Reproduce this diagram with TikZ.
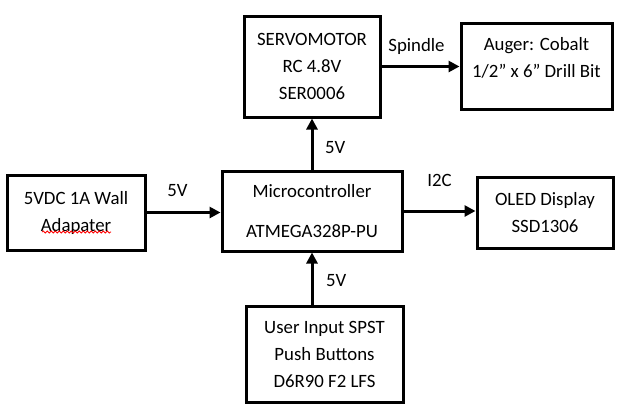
\documentclass[tikz,border=0pt]{standalone}
\usepackage{fontspec}
\setmainfont{Carlito}
\usepackage{tikz}
\usetikzlibrary{arrows.meta, decorations.pathmorphing}

\begin{document}
\begin{tikzpicture}[x=0.5pt, y=-0.5pt, >={Triangle[length=5.5pt,width=5.5pt]},
  font=\fontsize{9.4}{13.5}\selectfont,
  block/.style={draw, line width=1.5pt, align=center, inner sep=0pt},
  squiggle/.style={draw=red, line width=0.4pt, decorate,
    decoration={snake, amplitude=0.5pt, segment length=2pt}}]
\useasboundingbox (0,0) rectangle (626,412);

\node [block, minimum width=69pt, minimum height=37.5pt] (wall) at (76,212.5)
  {5VDC 1A Wall\\Adapater};
\node [block, minimum width=90pt, minimum height=40pt] (micro) at (312,211)
  {Microcontroller\\[6.5pt]ATMEGA328P-PU};
\node [block, minimum width=68pt, minimum height=50.5pt] (servo) at (312,66.5)
  {SERVOMOTOR\\RC 4.8V\\SER0006};
\node [block, minimum width=75.5pt, minimum height=43pt, text depth=9pt] (auger) at (536.5,66)
  {Auger: Cobalt\\1/2” x 6” Drill Bit};
\node [block, minimum width=68pt, minimum height=35.5pt] (oled) at (545,212.5)
  {OLED Display\\SSD1306};
\node [block, minimum width=78.5pt, minimum height=48pt] (user) at (324.5,354)
  {User Input SPST\\Push Buttons\\D6R90 F2 LFS};

% spell-check mark under the adapter text
\path [squiggle] (42,232) -- (111,232);

\draw [->, line width=1.5pt] (wall.east) -- (wall.east -| micro.west)
    node [above=4pt, midway, xshift=-3pt] {5V};
\draw [->, line width=1.5pt] (micro.north) -- (servo.south)
    node [right=2.5pt, midway, yshift=-2pt] {5V};
\draw [->, line width=1.5pt] (servo.east) -- (servo.east -| auger.west)
    node [above=2pt, midway, xshift=-2pt] {Spindle};
\draw [->, line width=1.5pt] (micro.east) -- (micro.east -| oled.west)
    node [above=8pt, midway] {I2C};
\draw [->, line width=1.5pt] (user.north -| micro.south) -- (micro.south)
    node [right=3pt, midway, yshift=-1pt] {5V};
\end{tikzpicture}
\end{document}
